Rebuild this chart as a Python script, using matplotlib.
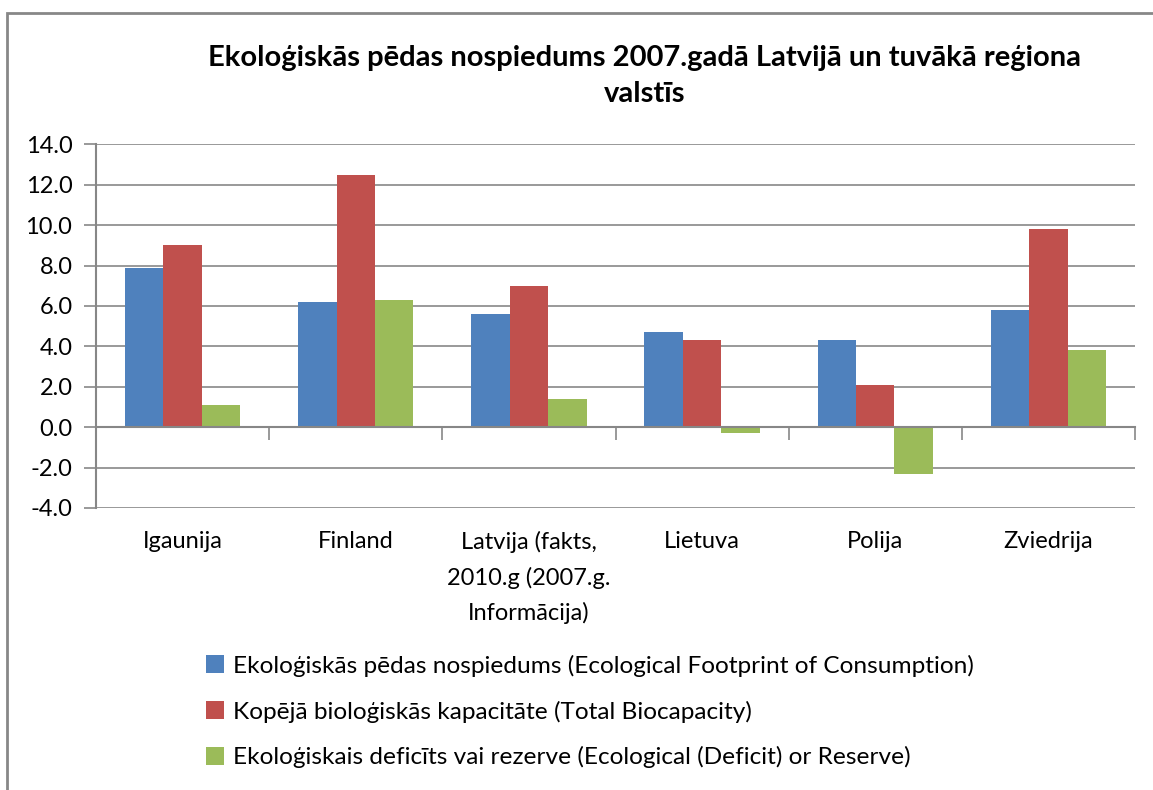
import matplotlib
matplotlib.use('Agg')
import matplotlib.pyplot as plt
import matplotlib.transforms as mtransforms
import numpy as np
from matplotlib.patches import Rectangle

plt.rcParams['font.family'] = ['Lato', 'DejaVu Sans']

# data
countries = ['Igaunija', 'Finland', 'Latvija (fakts,\n2010.g (2007.g.\nInformācija)',
             'Lietuva', 'Polija', 'Zviedrija']
footprint = [7.9, 6.2, 5.6, 4.7, 4.3, 5.8]
biocapacity = [9.0, 12.5, 7.0, 4.3, 2.1, 9.8]
reserve = [1.1, 6.3, 1.4, -0.3, -2.3, 3.8]

series_names = ['Ekoloģiskās pēdas nospiedums (Ecological Footprint of Consumption)',
                'Kopējā bioloģiskās kapacitāte (Total Biocapacity)',
                'Ekoloģiskais deficīts vai rezerve (Ecological (Deficit) or Reserve)']
colors = ['#4f81bd', '#c0504d', '#9bbb59']
yticks = [-4, -2, 0, 2, 4, 6, 8, 10, 12, 14]

title = 'Ekoloģiskās pēdas nospiedums 2007.gadā Latvijā un tuvākā reģiona\nvalstīs'

grey = '#878787'

fig = plt.figure(figsize=(11.53, 7.90), dpi=100)
ax = fig.add_axes([96/1153, 1-508/790, (1135-96)/1153, (508-144.3)/790])

x = np.arange(len(countries))
w = 1/4.5
for k, vals in enumerate([footprint, biocapacity, reserve]):
    ax.bar(x + (k-1)*w, vals, w, color=colors[k], label=series_names[k], zorder=3)

ax.set_xlim(-0.5, len(countries)-0.5)
ax.set_ylim(-4, 14)
ax.set_yticks(yticks)
ax.set_yticklabels(['%.1f' % v for v in yticks])
ax.yaxis.grid(True, color=grey, linewidth=1.2, zorder=0)
ax.tick_params(axis='y', length=9, width=1.2, color=grey, pad=8, labelsize=17)

# category boundaries get the tick marks, names go below the plot area
ax.set_xticks(np.arange(-0.5, len(countries)))
ax.set_xticklabels([])
ax.tick_params(axis='x', length=9, width=1.2, color=grey)
trans = mtransforms.blended_transform_factory(ax.transData, fig.transFigure)
for i, name in enumerate(countries):
    ax.text(x[i], 1-531/790, name, transform=trans, ha='center', va='top',
            fontsize=17, linespacing=1.75)

for s in ['top', 'right']:
    ax.spines[s].set_visible(False)
ax.spines['left'].set_color(grey)
ax.spines['left'].set_linewidth(1.5)
ax.spines['bottom'].set_position(('data', 0))
ax.spines['bottom'].set_color(grey)
ax.spines['bottom'].set_linewidth(1.5)
ax.spines['bottom'].set_zorder(4)

fig.text(645/1153, 1-76/790, title, ha='center', va='center', fontsize=21,
         fontweight='bold', linespacing=1.45)

fig.legend(loc='upper left', bbox_to_anchor=(196/1153, 1-645/790), frameon=False,
           fontsize=17.6, handlelength=0.75, handleheight=0.75, handletextpad=0.35,
           labelspacing=0.97, borderaxespad=0)

fig.patches.append(Rectangle((7/1153, -0.1), 1.2, 1.1-13/790, transform=fig.transFigure,
                             fill=False, edgecolor=grey, linewidth=2))

fig.savefig('out.png', dpi=100)
